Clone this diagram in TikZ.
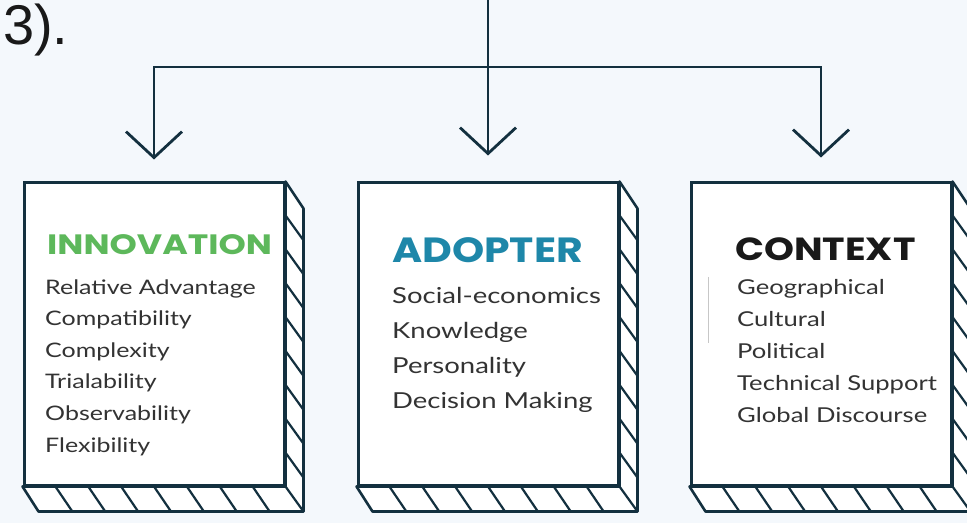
\documentclass[tikz,border=0pt]{standalone}
\usepackage{fontspec}
\setmainfont{Liberation Sans}
\newfontfamily\headfontA{Poppins}[FakeStretch=1.24]
\newfontfamily\headfontB{Poppins}[FakeStretch=1.17]
\newfontfamily\headfontC{Poppins}[FakeStretch=1.19]
\newfontfamily\bodyfont{Lato}[FakeStretch=1.25]
\usetikzlibrary{arrows.meta,calc}
\definecolor{ink}{HTML}{13303F}
\definecolor{paper}{HTML}{F4F8FC}
\definecolor{innogreen}{HTML}{5DB85B}
\definecolor{adoptblue}{HTML}{1E87A9}
\definecolor{itemgray}{HTML}{333333}

\tikzset{
  frontbox/.style={draw=ink, line width=3pt, fill=white, minimum width=260pt,
    minimum height=302pt, inner sep=0pt},
  strip/.style={draw=ink, line width=2.6pt, fill=white, line join=round},
  hatch/.style={draw=ink, line width=2.2pt, line cap=round},
  conn/.style={draw=ink, line width=2.8pt,
    -{Straight Barb[length=26pt,width=56pt,line width=2.8pt]}},
  headA/.style={font=\headfontA\bfseries\fontsize{28}{30}\selectfont, text=innogreen, inner sep=0pt},
  headB/.style={font=\headfontB\bfseries\fontsize{35}{37}\selectfont, text=adoptblue, inner sep=0pt},
  headC/.style={font=\headfontC\bfseries\fontsize{32}{34}\selectfont, text=black!90, inner sep=0pt},
  itemA/.style={font=\bodyfont\fontsize{20}{22}\selectfont, text=itemgray, inner sep=0pt},
  itemB/.style={font=\bodyfont\fontsize{22}{24}\selectfont, text=itemgray, inner sep=0pt},
  itemC/.style={font=\bodyfont\fontsize{20.5}{23}\selectfont, text=itemgray, inner sep=0pt},
}

\begin{document}
\begin{tikzpicture}[x=1pt,y=1pt]
  \useasboundingbox (0,0) rectangle (967,523);
  \fill[paper] (0,0) rectangle (967,523);
  \clip (0,0) rectangle (967,523);

  % leftover label from the preceding text
  \node[anchor=base west, inner sep=0pt, font=\fontsize{56}{58}\selectfont, text=black!90]
    (lbl) at (3,478) {3).};

  % the three front faces
  \node[frontbox] (b1) at (154,189) {};
  \node[frontbox] (b2) at (488,189) {};
  \node[frontbox] (b3) at (821,189) {};

  % depth strips with hatching
  \foreach \b in {b1,b2,b3} {
    \draw[strip] (\b.north east) -- ++(18,-27) -- ($(\b.south east)+(18,-25)$)
      -- ($(\b.south west)+(16,-25)$) -- (\b.south west) -- (\b.south east) -- cycle;
    \draw[hatch] (\b.south east) -- ++(18,-25);
    \foreach \k in {1,...,8}
      \draw[hatch] ($(\b.north east)!\k/9!(\b.south east)$) -- ++(18,-25);
    \foreach \k in {1,...,7}
      \draw[hatch] ($(\b.south west)!\k/8!(\b.south east)$) -- ++(17,-25);
  }

  % connectors
  \coordinate (src) at (488,523);
  \coordinate (split) at (488,456);
  \draw[conn] (src) -- ([yshift=26pt]b2.north);
  \draw[conn] (split) -| ([yshift=22pt]b1.north);
  \draw[conn] (split) -| ([yshift=24pt]b3.north);

  % innovation
  \node[headA, anchor=base west] (h1) at (47,268) {INNOVATION};
  \foreach \s [count=\i] in {Relative Advantage, Compatibility, Complexity,
      Trialability, Observability, Flexibility}
    \node[itemA, anchor=base west] (i1-\i) at (45,{229-(\i-1)*31.6}) {\s};

  % adopter
  \node[headB, anchor=base west] (h2) at (392,260) {ADOPTER};
  \foreach \s [count=\i] in {Social-economics, Knowledge, Personality, Decision Making}
    \node[itemB, anchor=base west] (i2-\i) at (392,{220-(\i-1)*35}) {\s};

  % context
  \node[headC, anchor=base west] (h3) at (735,262) {CONTEXT};
  \foreach \s [count=\i] in {Geographical, Cultural, Political, Technical Support, Global Discourse}
    \node[itemC, anchor=base west] (i3-\i) at (737,{229-(\i-1)*32}) {\s};
  \draw[black!22, line width=0.9pt] (708,246) -- (708,180);
\end{tikzpicture}
\end{document}
